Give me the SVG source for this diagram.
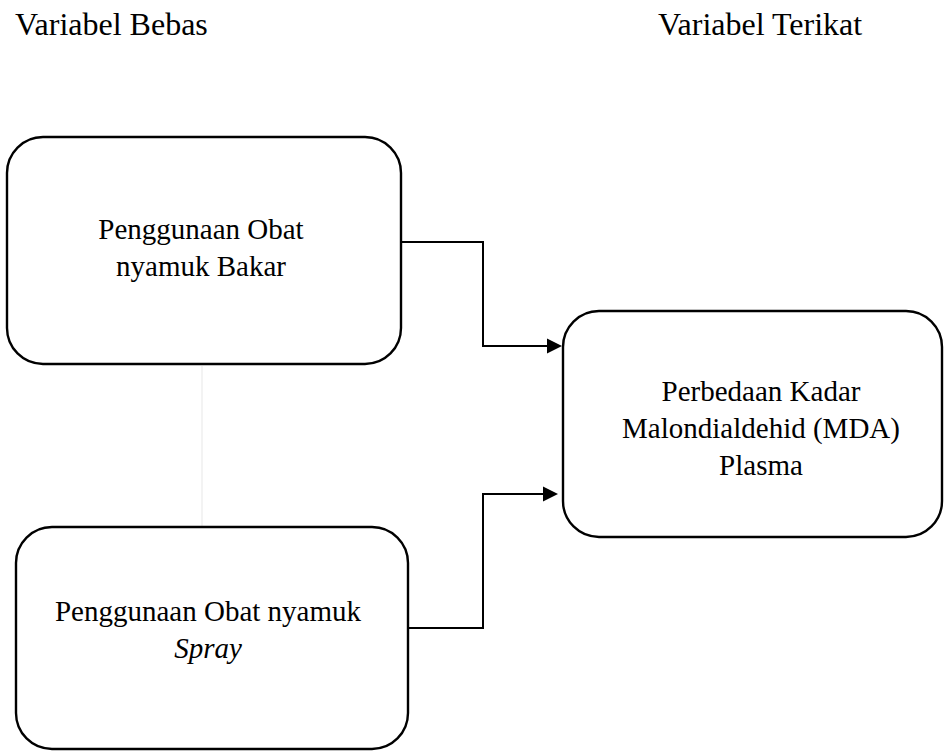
<svg xmlns="http://www.w3.org/2000/svg" width="944" height="751" viewBox="0 0 944 751">
<style>
.nodebox{fill:#fff;stroke:#000;stroke-width:2.4}
.nodelabel{font-size:29px;fill:#000;text-anchor:middle}
.header{font-size:32px;fill:#000}
.conn{fill:none;stroke:#000;stroke-width:2}
.head{fill:#000;stroke:none}
</style>
<rect width="944" height="751" fill="#fff"/>
<text class="header" x="15" y="35" font-family="Liberation Serif">Variabel Bebas</text>
<text class="header" x="658" y="35" font-family="Liberation Serif">Variabel Terikat</text>
<g id="connectors">
<line x1="202" y1="366" x2="202" y2="526" stroke="#efefef" stroke-width="1.5"/>
<polyline class="conn" points="401,242 483,242 483,346 548,346"/>
<polygon class="head" points="547,338.5 562,346 547,353.5"/>
<polyline class="conn" points="408,628 483,628 483,494 544,494"/>
<polygon class="head" points="543,486.5 558,494 543,501.5"/>
</g>
<g id="node-bakar">
<rect class="nodebox" x="7" y="137" width="394" height="227" rx="36" ry="36"/>
<text class="nodelabel" x="201" y="239" font-family="Liberation Serif">Penggunaan Obat</text>
<text class="nodelabel" x="201" y="276" font-family="Liberation Serif">nyamuk Bakar</text>
</g>
<g id="node-spray">
<rect class="nodebox" x="16" y="527" width="392" height="222" rx="36" ry="36"/>
<text class="nodelabel" x="208" y="621" font-family="Liberation Serif">Penggunaan Obat nyamuk</text>
<text class="nodelabel" x="208" y="658" font-family="Liberation Serif" font-style="italic">Spray</text>
</g>
<g id="node-mda">
<rect class="nodebox" x="563" y="311" width="379" height="226" rx="36" ry="36"/>
<text class="nodelabel" x="761" y="401" font-family="Liberation Serif">Perbedaan Kadar</text>
<text class="nodelabel" x="761" y="438" font-family="Liberation Serif">Malondialdehid (MDA)</text>
<text class="nodelabel" x="761" y="475" font-family="Liberation Serif">Plasma</text>
</g>
</svg>
